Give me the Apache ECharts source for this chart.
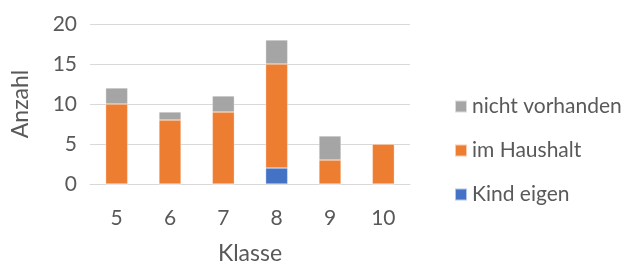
<!DOCTYPE html>
<html lang="de">
<head>
    <meta charset="UTF-8">
    <title>Anzahl nach Klasse</title>
    <script src="https://cdn.jsdelivr.net/npm/echarts/dist/echarts.min.js"></script>
    <style>
        html, body { margin: 0; padding: 0; background: #fff; }
    </style>
</head>
<body>
<div id="chart1" style="width: 635px;height:265px;"></div>
<script type="text/javascript">
    var klassen = ['5', '6', '7', '8', '9', '10'];
    var kindEigen = [0, 0, 0, 2, 0, 0];
    var imHaushalt = [10, 8, 9, 13, 3, 5];
    var nichtVorhanden = [2, 1, 2, 3, 3, 0];

    var chart1 = echarts.init(document.getElementById('chart1'));
    var textColor = '#595959';
    var font = 'Lato, "Open Sans", sans-serif';

    function bar(name, data, color) {
        return {
            name: name,
            type: 'bar',
            stack: 'gesamt',
            data: data,
            barWidth: 22,
            itemStyle: {color: color, borderColor: 'rgba(255,255,255,0.6)', borderWidth: 0.5},
            emphasis: {disabled: true}
        };
    }

    option = {
        backgroundColor: '#fff',
        animation: false,
        textStyle: {fontFamily: font, color: textColor},
        grid: {left: 90, right: 225, top: 24, bottom: 81, outerBoundsMode: 'none', containLabel: false},
        legend: {
            orient: 'vertical',
            left: 449,
            top: 91,
            itemWidth: 12,
            itemHeight: 12,
            itemGap: 23,
            icon: 'rect',
            data: ['nicht vorhanden', 'im Haushalt', 'Kind eigen'],
            textStyle: {fontFamily: font, fontSize: 21, color: textColor}
        },
        xAxis: {
            type: 'category',
            data: klassen,
            name: 'Klasse',
            nameLocation: 'middle',
            nameGap: 58,
            nameTextStyle: {fontSize: 23, color: textColor, fontFamily: font},
            axisLine: {show: true, lineStyle: {color: '#D9D9D9', width: 1}},
            axisTick: {show: false},
            axisLabel: {fontSize: 21, color: textColor, margin: 24, fontFamily: font}
        },
        yAxis: {
            type: 'value',
            min: 0,
            max: 20,
            interval: 5,
            name: 'Anzahl',
            nameLocation: 'middle',
            nameGap: 58,
            nameRotate: 90,
            nameTextStyle: {fontSize: 23, color: textColor, fontFamily: font},
            axisLine: {show: false},
            axisTick: {show: false},
            axisLabel: {fontSize: 21, color: textColor, margin: 13, fontFamily: font},
            splitLine: {lineStyle: {color: '#D9D9D9', width: 1}}
        },
        series: [
            bar('Kind eigen', kindEigen, '#4472C4'),
            bar('im Haushalt', imHaushalt, '#ED7D31'),
            bar('nicht vorhanden', nichtVorhanden, '#A5A5A5')
        ]
    };
    chart1.setOption(option);
</script>
</body>
</html>
